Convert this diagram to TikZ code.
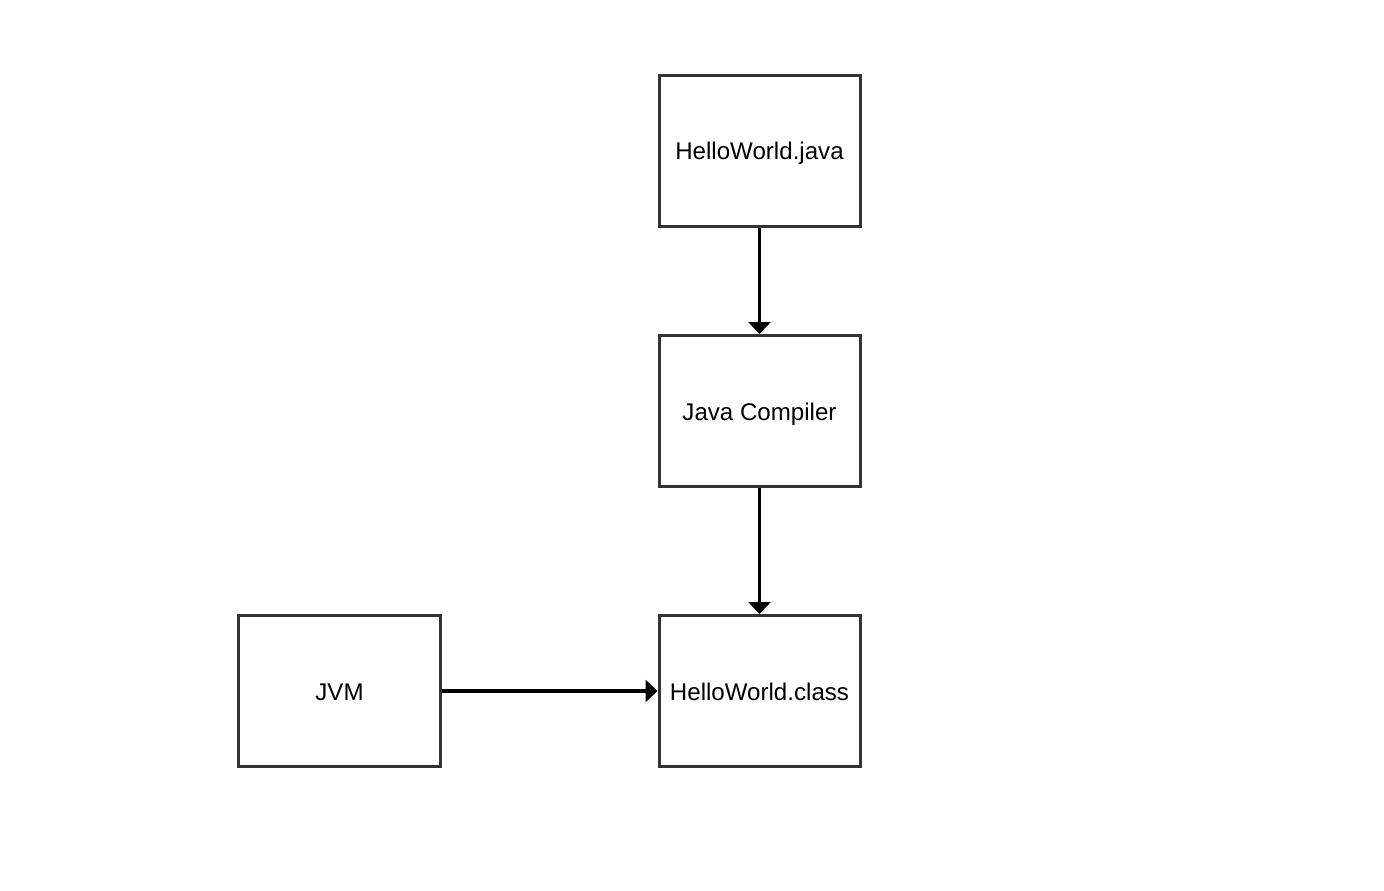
\documentclass[tikz,border=0pt]{standalone}
\usepackage{fontspec}
\setmainfont{Liberation Sans}
\usetikzlibrary{positioning,arrows.meta}

\begin{document}
\begin{tikzpicture}[x=1bp, y=-1bp, node distance=260bp, on grid,
      box/.style={draw=black!80, line width=3bp, minimum width=201bp,
        minimum height=151bp, inner sep=0pt, text height=18bp, text depth=0bp,
        font=\fontsize{24.2}{28}\selectfont},
      flow/.style={line width=3.5bp, -{Triangle[width=22bp,length=12bp]}}
  ]
    \useasboundingbox (0,0) rectangle (1384,890);
    \node[box] (hello_java) at (759.5,150.5) {HelloWorld.java};
    \node[box] (compiler) [below=260.5bp of hello_java] {Java Compiler};
    \node[box] (hello_class) [below=280bp of compiler] {HelloWorld.class};
    \node[box] (jvm) [left=420bp of hello_class] {JVM};
    \path[flow]
    (hello_java) edge (compiler)
    (compiler) edge (hello_class)
    (jvm) edge (hello_class)
          ;
  \end{tikzpicture}
\end{document}
